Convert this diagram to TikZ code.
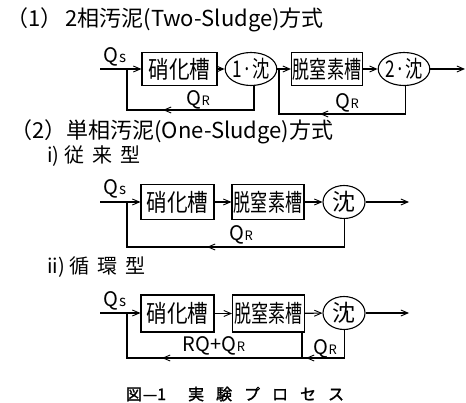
\documentclass[tikz,border=0pt]{standalone}
\usepackage{fontspec}
\usepackage{graphicx}
\setmainfont{Noto Sans CJK JP}
\newfontfamily\capfont[FakeBold=1.5]{Noto Sans CJK JP}
\usetikzlibrary{arrows.meta,shapes.geometric}
\newcommand\myQR{Q\kern0.5pt{\fontsize{13}{13}\selectfont R}}
\newcommand\myQS{Q\kern0.5pt{\fontsize{15}{15}\selectfont s}}
\newcommand\narrowA[1]{\scalebox{0.86}[1]{#1}}
\newcommand\narrowB[1]{\scalebox{0.71}[1]{#1}}
\begin{document}
\begin{tikzpicture}[x=1pt,y=-1pt,
  tank/.style={draw,line width=1.1pt,minimum height=34pt,inner sep=0pt,font=\fontsize{24}{24}\selectfont},
  settler/.style={draw,ellipse,line width=1.1pt,minimum width=39pt,minimum height=33pt,inner sep=0pt,font=\fontsize{23}{23}\selectfont},
  arr/.style={-{Straight Barb[length=7pt,width=6pt,line width=0.9pt]}},
  ln/.style={line width=1.1pt},
  lbl/.style={font=\fontsize{20}{20}\selectfont,inner sep=0pt},
  head/.style={font=\fontsize{22}{22}\selectfont,inner sep=0pt,anchor=west},
  sub/.style={font=\fontsize{20}{20}\selectfont,inner sep=0pt,anchor=west}
]
\useasboundingbox (0,0) rectangle (466,403);

% ---------- (1) ----------
\node[head] (t1) at (6,20) {（1）\kern3pt 2相汚泥(Two-Sludge)方式};
\node[tank,minimum width=75pt,minimum height=33pt] (a1) at (179.5,69) {\narrowA{硝化槽}};
\node[settler] (a2) at (251,69) {\scalebox{0.75}[1]{1·沈}};
\node[tank,minimum width=71pt,minimum height=33pt] (a3) at (327,69) {\narrowB{脱窒素槽}};
\node[settler,minimum width=41pt] (a4) at (404,69) {\scalebox{0.75}[1]{2·沈}};
\node[lbl] (aq) at (115,57) {\myQS};
\node[lbl] (ar1) at (198,100) {\myQR};
\node[lbl] (ar2) at (347,103) {\myQR};
\coordinate (ain) at (100,69);
\coordinate (aj1) at (127,69);
\coordinate (aout) at (465,69);
\coordinate (aj2) at (279,69);
\draw[ln,arr] (ain) -- (a1);
\draw[ln,arr] (a1) -- (a2);
\draw[ln,arr] (a2) -- (a3);
\draw[ln,arr] (a3) -- (a4);
\draw[ln,arr] (a4) -- (aout);
\coordinate (ab1) at (127,110);
\coordinate (ab1m) at (163,110);
\draw[ln] (a2.-80) -- (a2.-80 |- ab1) -- (ab1) -- (aj1);
\draw[ln,arr] (a2.-80 |- ab1) -- (ab1m);
\coordinate (ab2) at (279,114);
\coordinate (ab2m) at (320,114);
\draw[ln] (a4.-85) -- (a4.-85 |- ab2) -- (ab2) -- (aj2);
\draw[ln,arr] (a4.-85 |- ab2) -- (ab2m);

% ---------- (2) ----------
\node[head] (t2) at (10,132) {（2）単相汚泥(One-Sludge)方式};
\node[sub] (t2i) at (47,156) {i)\kern5pt 従\kern8pt 来\kern8pt 型};

\node[tank,minimum width=73pt,minimum height=35pt] (b1) at (177.5,202) {\narrowA{硝化槽}};
\node[tank,minimum width=72pt,minimum height=35pt] (b2) at (268,202) {\narrowB{脱窒素槽}};
\node[settler,minimum width=42pt,minimum height=33pt] (b3) at (344,202) {沈};
\node[lbl] (bq) at (115,189) {\myQS};
\node[lbl] (br) at (241,235) {\myQR};
\coordinate (bin) at (100,202);
\coordinate (bj) at (127,202);
\coordinate (bout) at (409,202);
\draw[ln,arr] (bin) -- (b1);
\draw[ln,arr] (b1) -- (b2);
\draw[ln,arr] (b2) -- (b3);
\draw[ln,arr] (b3) -- (bout);
\coordinate (bb) at (127,247);
\coordinate (bbm) at (207,247);
\draw[ln] (b3.-88) -- (b3.-88 |- bb) -- (bb) -- (bj);
\draw[ln,arr] (b3.-88 |- bb) -- (bbm);

\node[sub] (t2ii) at (47,267) {ii)\kern5pt 循\kern8pt 環\kern8pt 型};

\node[tank,minimum width=73pt,minimum height=37pt] (c1) at (177.5,313.5) {\narrowA{硝化槽}};
\node[tank,minimum width=72pt,minimum height=37pt] (c2) at (268.5,313.5) {\narrowB{脱窒素槽}};
\node[settler,minimum width=42pt,minimum height=33pt] (c3) at (344,313) {沈};
\node[lbl] (cq) at (115,301) {\myQS};
\node[lbl] (cr1) at (214,346) {RQ+\myQR};
\node[lbl] (cr2) at (325,349) {\myQR};
\coordinate (cin) at (100,313);
\coordinate (cj) at (127,313);
\coordinate (cout) at (409,313);
\draw[ln,arr] (cin) -- (c1.west |- cin);
\draw[ln,arr] (c1) -- (c2);
\draw[ln,arr] (c2) -- (c3);
\draw[ln,arr] (c3) -- (cout);
\coordinate (cb) at (127,358);
\coordinate (cbm) at (162,358);
\coordinate (cx) at (302,358);
\coordinate (cxm) at (306,358);
\draw[ln] (c3.-88) -- (c3.-88 |- cx) -- (cx);
\draw[ln,arr] (c3.-88 |- cx) -- (cxm);
\draw[ln] (c2.south -| cx) -- (cx) -- (cb) -- (cj);
\draw[ln,arr] (cx) -- (cbm);

% ---------- caption ----------
\node[inner sep=0pt,font=\capfont\fontsize{16}{16}\selectfont] (cap) at (235,394) {図\kern1pt —1\kern22pt 実\kern12pt 験\kern12pt プ\kern12pt ロ\kern12pt セ\kern12pt ス};
\end{tikzpicture}
\end{document}
